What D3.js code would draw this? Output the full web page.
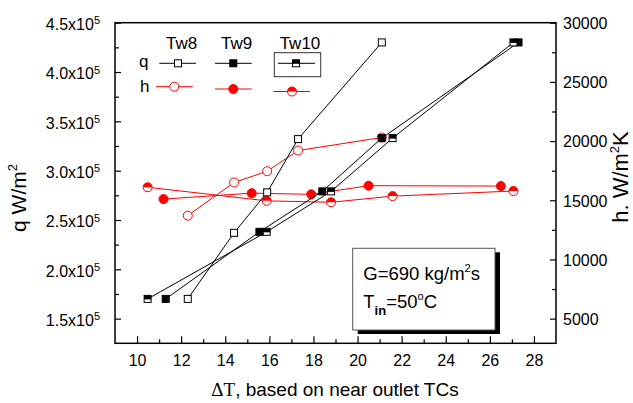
<!DOCTYPE html>
<html>
<head>
<meta charset="utf-8">
<script src="https://cdn.jsdelivr.net/npm/d3@7/dist/d3.min.js"></script>
<style>
  html, body { margin: 0; padding: 0; background: #fff; }
  svg { display: block; font-family: "Liberation Sans", Arial, sans-serif; }
</style>
</head>
<body>
<svg id="chart" width="633" height="403"></svg>
<script>
// ΔT (near outlet TCs), heat flux q and heat transfer coefficient h for three wall stations
const tw8DeltaT = [12.3, 14.4, 15.9, 17.3, 21.1];
const tw8Q      = [1.70e5, 2.37e5, 2.78e5, 3.32e5, 4.30e5];
const tw8H      = [13700, 16500, 17450, 19200, 20300];

const tw9DeltaTq = [11.3, 15.55, 18.4, 21.1, 27.3];
const tw9Q       = [1.70e5, 2.38e5, 2.79e5, 3.33e5, 4.30e5];
const tw9DeltaTh = [11.2, 15.2, 17.9, 20.5, 26.5];
const tw9H       = [15100, 15600, 15500, 16230, 16200];

const tw10DeltaT = [10.48, 15.88, 18.8, 21.59, 27.07];
const tw10Q      = [1.70e5, 2.38e5, 2.79e5, 3.33e5, 4.30e5];
const tw10H      = [16100, 14950, 14830, 15350, 15780];

const seriesNames = ["Tw8", "Tw9", "Tw10"];

const xTicks  = [10, 12, 14, 16, 18, 20, 22, 24, 26, 28];
const qTicks  = [1.5e5, 2.0e5, 2.5e5, 3.0e5, 3.5e5, 4.0e5, 4.5e5];
const qLabels = ["1.5", "2.0", "2.5", "3.0", "3.5", "4.0", "4.5"];
const hTicks  = [5000, 10000, 15000, 20000, 25000, 30000];

const svg = d3.select("#chart");
svg.append("rect").attr("width", 633).attr("height", 403).attr("fill", "#fff");

const L = 115, R = 556, T = 22.7, B = 343.3;
const x  = d3.scaleLinear().domain([9, 29]).range([L, R]);
const yq = d3.scaleLinear().domain([1.25e5, 4.5e5]).range([B, T]);
const yh = d3.scaleLinear().domain([5000 - 25000 / 12, 30000]).range([B, T]);

const RED = "#ff0000";

// ---- axes ----
function styleAxis(g) {
  g.select(".domain").remove();
  g.selectAll(".tick line").attr("stroke", "#000").attr("stroke-width", 1.2);
  g.selectAll(".tick text").attr("fill", "#000").attr("font-size", 16)
    .attr("font-family", "Liberation Sans, Arial, sans-serif");
}

// bottom
const xMinor = d3.range(11, 28, 2);
svg.append("g").attr("transform", `translate(0,${B})`)
  .call(d3.axisBottom(x).tickValues(xMinor).tickSize(-4).tickFormat(""))
  .call(styleAxis);
svg.append("g").attr("transform", `translate(0,${B})`)
  .call(d3.axisBottom(x).tickValues(xTicks).tickSize(-7).tickPadding(11).tickFormat(d3.format("d")))
  .call(styleAxis);

// left (q)
const qMinor = d3.range(1.75e5, 4.5e5, 0.5e5);
svg.append("g").attr("transform", `translate(${L},0)`)
  .call(d3.axisLeft(yq).tickValues(qMinor).tickSize(-4).tickFormat(""))
  .call(styleAxis);
const leftAxis = svg.append("g").attr("transform", `translate(${L},0)`)
  .call(d3.axisLeft(yq).tickValues(qTicks).tickSize(-6).tickPadding(15).tickFormat(""))
  .call(styleAxis);
leftAxis.selectAll(".tick text").each(function(d, i) {
  const t = d3.select(this).attr("dy", "0.42em");
  t.append("tspan").text(qLabels[i] + "x10");
  t.append("tspan").attr("font-size", 11).attr("dy", -5.5).text("5");
});

// right (h)
const hMinor = d3.range(7500, 30000, 5000);
svg.append("g").attr("transform", `translate(${R},0)`)
  .call(d3.axisRight(yh).tickValues(hMinor).tickSize(-4).tickFormat(""))
  .call(styleAxis);
svg.append("g").attr("transform", `translate(${R},0)`)
  .call(d3.axisRight(yh).tickValues(hTicks).tickSize(-6).tickPadding(7).tickFormat(d3.format("d")))
  .call(styleAxis)
  .selectAll(".tick text").attr("dy", "0.36em");

// frame
svg.append("rect").attr("x", L).attr("y", T).attr("width", R - L).attr("height", B - T)
  .attr("fill", "none").attr("stroke", "#000").attr("stroke-width", 1.5);

// axis titles
svg.append("text").attr("x", 335).attr("y", 396).attr("text-anchor", "middle")
  .attr("font-size", 19)
  .call(t => {
    t.append("tspan").attr("font-family", "Liberation Serif, Times New Roman, serif").text("ΔT");
    t.append("tspan").text(", based on near outlet TCs");
  });

svg.append("text").attr("transform", "translate(26,198) rotate(-90)")
  .attr("text-anchor", "middle").attr("font-size", 21)
  .call(t => {
    t.append("tspan").text("q W/m");
    t.append("tspan").attr("font-size", 13).attr("dy", -9).text("2");
  });

svg.append("text").attr("transform", "translate(628,177) rotate(-90)")
  .attr("text-anchor", "middle").attr("font-size", 22)
  .call(t => {
    t.append("tspan").text("h. W/m");
    t.append("tspan").attr("font-size", 13).attr("dy", -9).text("2");
    t.append("tspan").attr("dy", 9).text("K");
  });

// ---- markers ----
const SQ = 3.5, CR = 4.5;
function square(g, cx, cy, kind) {
  g.append("rect").attr("x", cx - SQ).attr("y", cy - SQ).attr("width", 2 * SQ).attr("height", 2 * SQ)
    .attr("fill", kind === "filled" ? "#000" : "#fff").attr("stroke", "#000").attr("stroke-width", 1);
  if (kind === "half") {
    g.append("rect").attr("x", cx - SQ).attr("y", cy - SQ).attr("width", 2 * SQ).attr("height", SQ + 0.5)
      .attr("fill", "#000");
  }
}
function circle(g, cx, cy, kind) {
  g.append("circle").attr("cx", cx).attr("cy", cy).attr("r", CR)
    .attr("fill", kind === "filled" ? RED : "#fff").attr("stroke", RED).attr("stroke-width", 1);
  if (kind === "half") {
    g.append("path")
      .attr("d", `M${cx - CR},${cy} A${CR},${CR} 0 0 1 ${cx + CR},${cy} Z`)
      .attr("fill", RED);
  }
}

const lineGen = (ys) => d3.line().x(d => x(d[0])).y(d => ys(d[1]));

const hSeries = [
  { xs: tw8DeltaT,  vs: tw8H,  kind: "open" },
  { xs: tw9DeltaTh, vs: tw9H,  kind: "filled" },
  { xs: tw10DeltaT, vs: tw10H, kind: "half" }
];
const qSeries = [
  { xs: tw8DeltaT,  vs: tw8Q,  kind: "open" },
  { xs: tw9DeltaTq, vs: tw9Q,  kind: "filled" },
  { xs: tw10DeltaT, vs: tw10Q, kind: "half" }
];

const plot = svg.append("g");
hSeries.forEach(s => {
  const pts = s.xs.map((v, i) => [v, s.vs[i]]);
  plot.append("path").datum(pts).attr("d", lineGen(yh))
    .attr("fill", "none").attr("stroke", RED).attr("stroke-width", 1);
});
hSeries.forEach(s => s.xs.forEach((v, i) => circle(plot, x(v), yh(s.vs[i]), s.kind)));

qSeries.forEach(s => {
  const pts = s.xs.map((v, i) => [v, s.vs[i]]);
  plot.append("path").datum(pts).attr("d", lineGen(yq))
    .attr("fill", "none").attr("stroke", "#000").attr("stroke-width", 1);
});
qSeries.forEach(s => s.xs.forEach((v, i) => square(plot, x(v), yq(s.vs[i]), s.kind)));

// ---- legend ----
const lg = svg.append("g").attr("font-size", 17);
const headX = [181.7, 236.7, 300];
seriesNames.forEach((n, i) => {
  lg.append("text").attr("x", headX[i]).attr("y", 49).attr("text-anchor", "middle").text(n);
});
lg.append("text").attr("x", 139).attr("y", 67).text("q");
lg.append("text").attr("x", 140).attr("y", 92).text("h");

lg.append("rect").attr("x", 274.3).attr("y", 52.7).attr("width", 46.4).attr("height", 24)
  .attr("fill", "none").attr("stroke", "#333").attr("stroke-width", 1);

const qLeg = [[159.3, 196, 178], [215, 251.7, 233.3], [278, 315, 296]];
const hLeg = [[156, 192.7, 174.3, 86.7], [215, 251.7, 233.3, 89], [273.3, 310, 292, 91.5]];
const kinds = ["open", "filled", "half"];
qLeg.forEach((d, i) => {
  lg.append("line").attr("x1", d[0]).attr("x2", d[1]).attr("y1", 63.3).attr("y2", 63.3)
    .attr("stroke", "#000").attr("stroke-width", 1);
  square(lg, d[2], 63.3, kinds[i]);
});
hLeg.forEach((d, i) => {
  lg.append("line").attr("x1", d[0]).attr("x2", d[1]).attr("y1", d[3]).attr("y2", d[3])
    .attr("stroke", RED).attr("stroke-width", 1);
  circle(lg, d[2], d[3], kinds[i]);
});

// ---- annotation box ----
const ann = svg.append("g");
ann.append("rect").attr("x", 357.7).attr("y", 252.3).attr("width", 142.3).attr("height", 81.7).attr("fill", "#000");
ann.append("rect").attr("x", 352.7).attr("y", 248.3).attr("width", 142.3).attr("height", 81.7)
  .attr("fill", "#fff").attr("stroke", "#555").attr("stroke-width", 1);
ann.append("text").attr("x", 363.3).attr("y", 280).attr("font-size", 18.5)
  .call(t => {
    t.append("tspan").text("G=690 kg/m");
    t.append("tspan").attr("font-size", 11).attr("dy", -8).text("2");
    t.append("tspan").attr("dy", 8).text("s");
  });
ann.append("text").attr("x", 363.3).attr("y", 308.3).attr("font-size", 18.5)
  .call(t => {
    t.append("tspan").text("T");
    t.append("tspan").attr("font-size", 13).attr("font-weight", "bold").attr("dy", 7).text("in");
    t.append("tspan").attr("dy", -7).text("=50");
    t.append("tspan").attr("font-size", 11).attr("dy", -8).text("o");
    t.append("tspan").attr("dy", 8).text("C");
  });
</script>
</body>
</html>
